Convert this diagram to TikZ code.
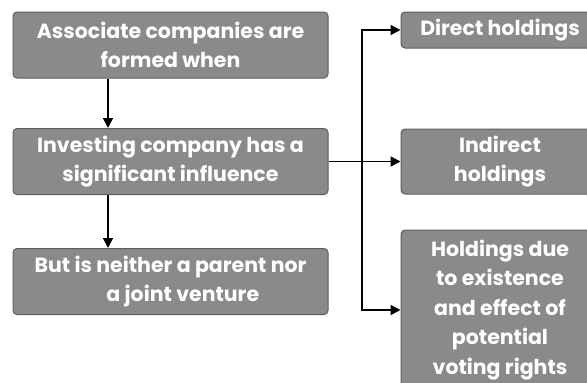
\documentclass[tikz,border=0pt]{standalone}
\usepackage{fontspec}
\setmainfont{Poppins}
\usepackage{xcolor}
\usetikzlibrary{arrows.meta,positioning,calc}
\definecolor{boxgray}{HTML}{8A8A8A}
\definecolor{edgegray}{HTML}{5E5E5E}

\begin{document}
\begin{tikzpicture}[x=1pt, y=-1pt,
    box/.style={draw=edgegray, line width=1pt, fill=boxgray, rounded corners=4pt, align=center,
        text=white, font=\fontsize{20.5}{29.5}\selectfont\bfseries, inner sep=0pt},
    leftbox/.style={box, minimum width=315pt, minimum height=66pt},
    rightbox/.style={box, minimum width=198pt},
    arr/.style={-{Triangle[length=10pt, width=10pt]}, line width=1.7pt},
]
\useasboundingbox (0,0) rectangle (587,383);

% left column
\node[leftbox] (assoc)  at (170.5, 45)    {Associate companies are\\formed when};
\node[leftbox] (invest) at (170.5, 161.5) {Investing company has a\\significant influence};
\node[leftbox] (neither) at (170.5, 281.5) {But is neither a parent nor\\\hspace*{1.2em}a joint venture};

% right column
\node[rightbox, minimum height=36pt]  (direct)   at (500, 30)    {Direct holdings};
\node[rightbox, minimum height=65pt]  (indirect) at (500, 161.5) {Indirect\\holdings};
\node[rightbox, minimum height=160pt] (voting)   at (500, 310)   {Holdings due\\to existence\\and effect of\\potential\\voting rights};

% arrows
\coordinate (down) at (108, 0);
\coordinate (split) at (362, 0);
\draw[arr] (assoc.south -| down) -- (invest.north -| down);
\draw[arr] (invest.south -| down) -- (neither.north -| down);
\draw[arr] (invest.east) -- (indirect.west);
\draw[arr] (split |- invest.east) |- (direct.west);
\draw[arr] (split |- invest.east) |- (voting.west);

\end{tikzpicture}
\end{document}
